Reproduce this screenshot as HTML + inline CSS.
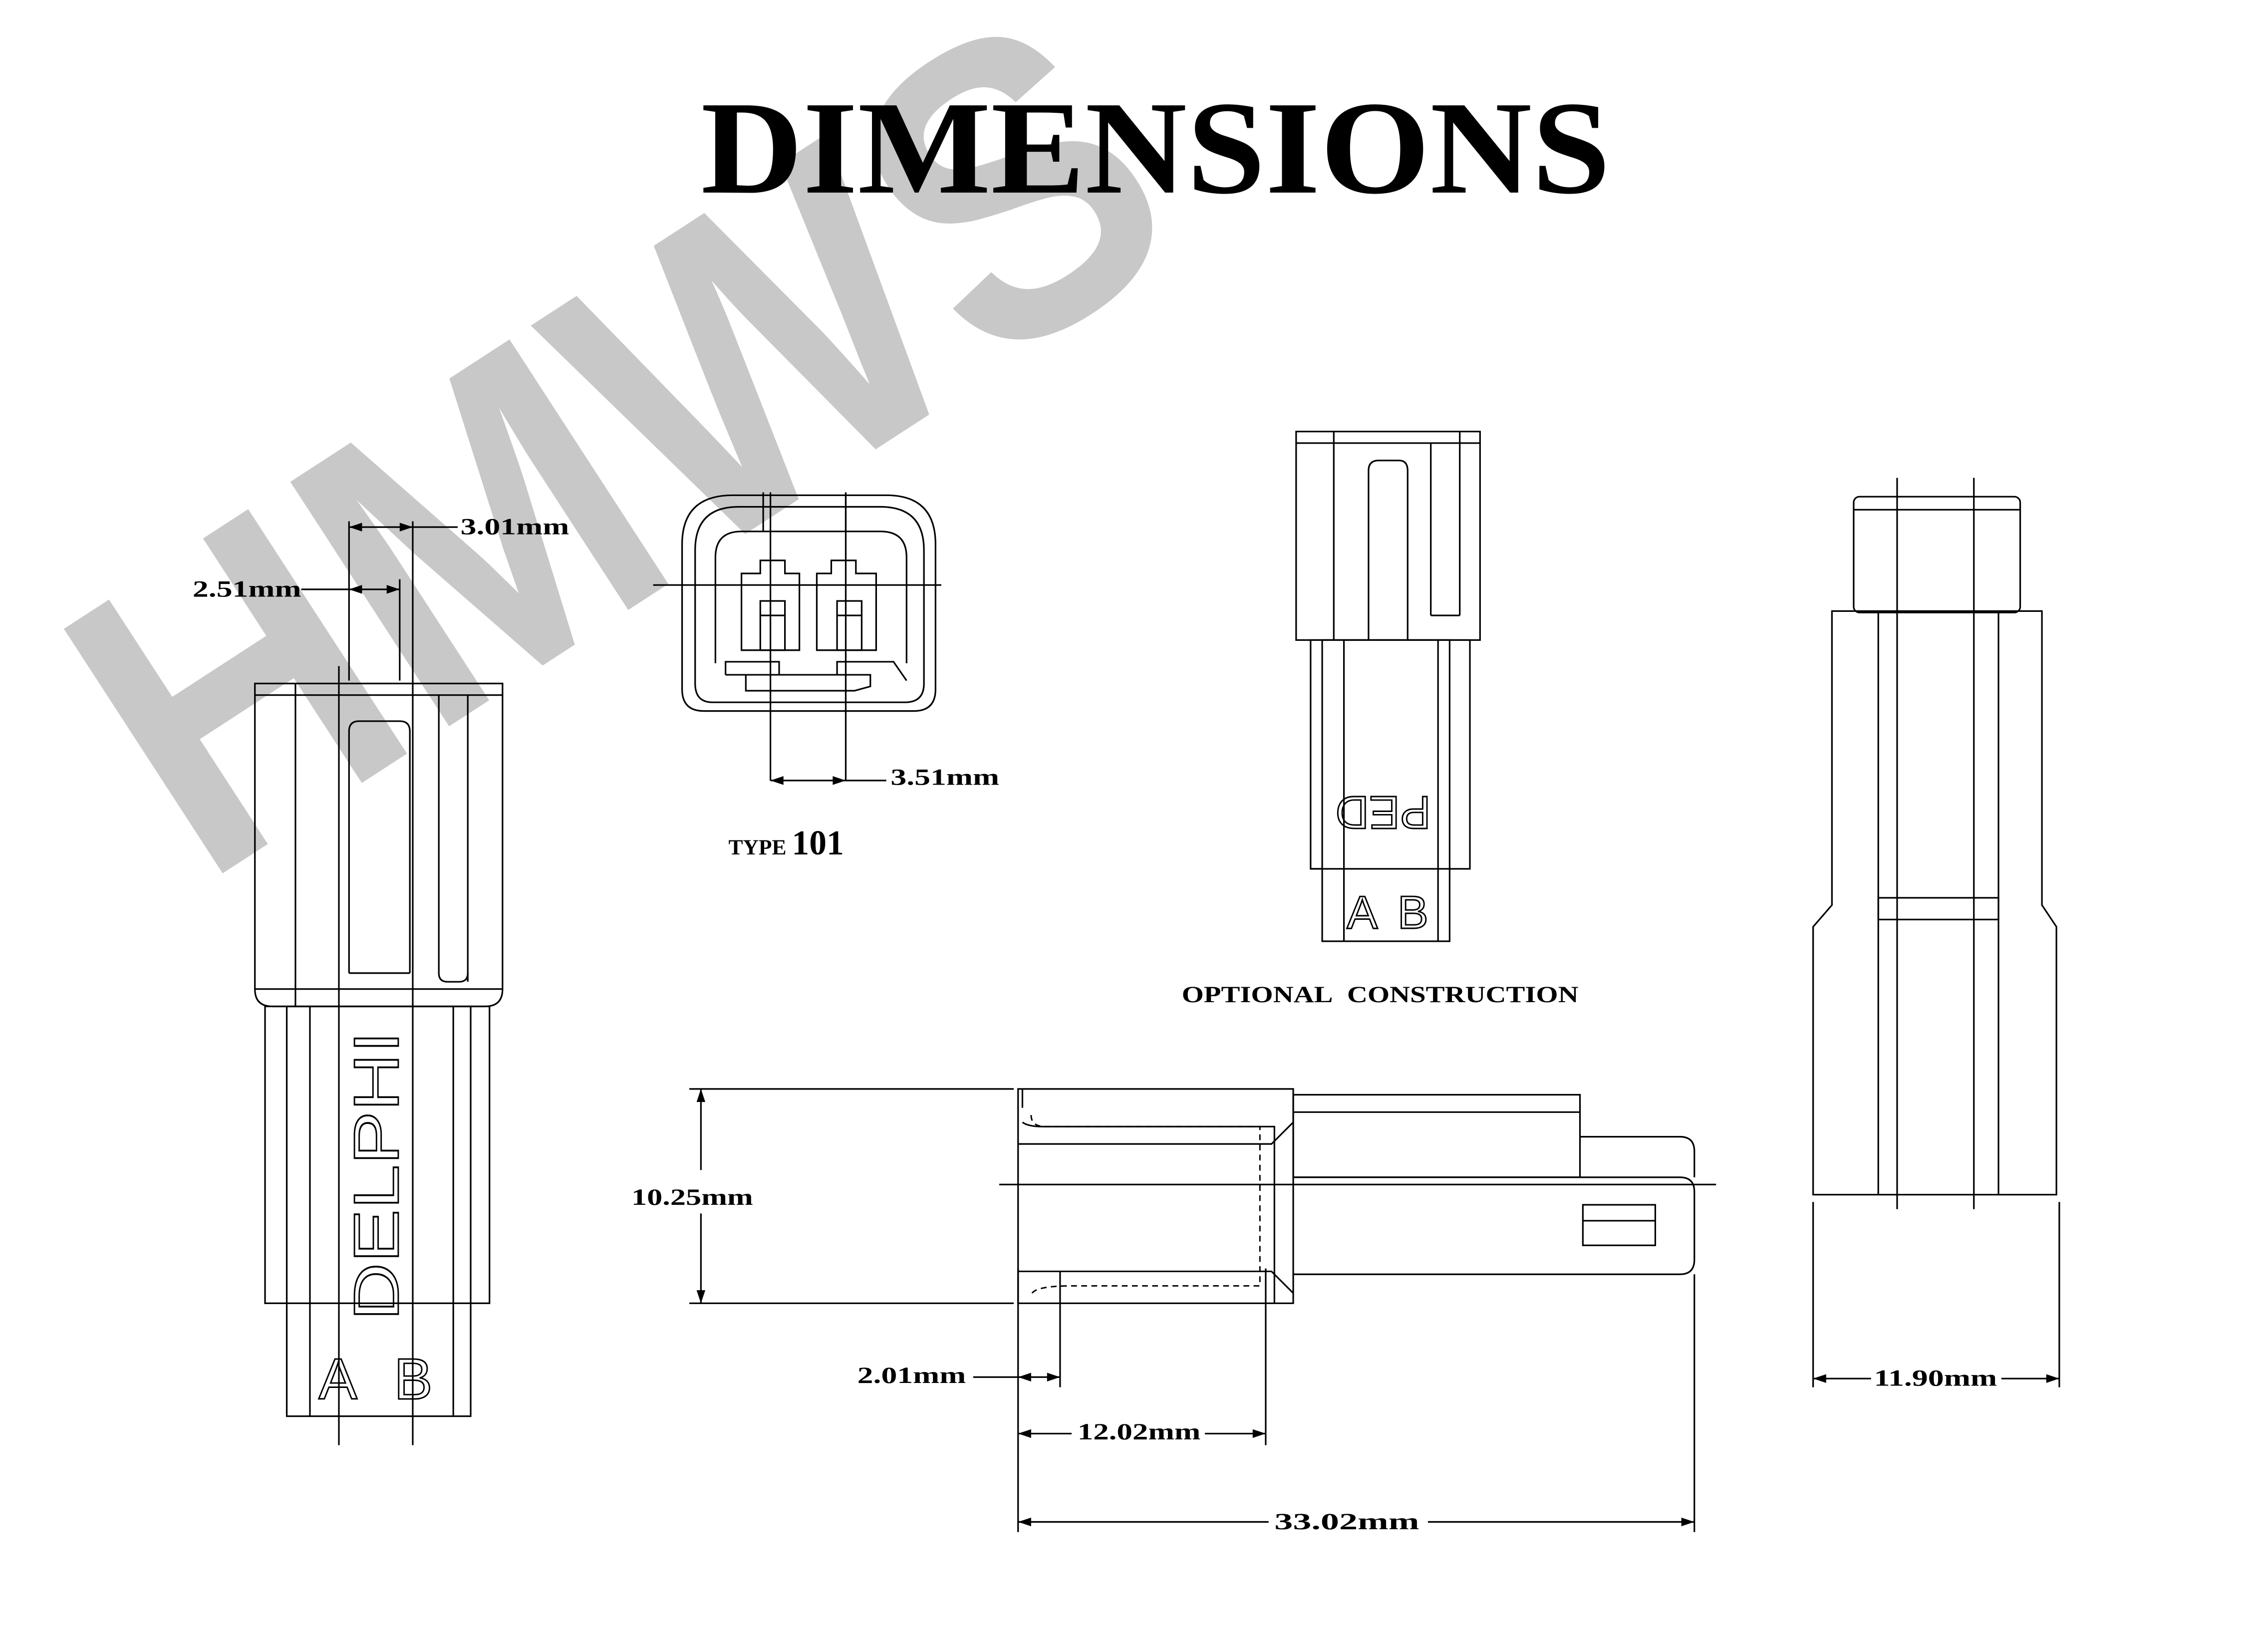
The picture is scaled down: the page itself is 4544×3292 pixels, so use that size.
<!DOCTYPE html>
<html><head><meta charset="utf-8"><style>
html,body{margin:0;padding:0;background:#fff;}
svg{display:block;}
text{font-family:"Liberation Serif",serif;font-weight:bold;fill:#000;}
text.sl{font-family:"Liberation Sans",sans-serif;font-weight:normal;fill:none;stroke:#000;stroke-width:1;}
</style></head><body>
<svg width="4544" height="3292" viewBox="0 0 1552 1124.4" xmlns="http://www.w3.org/2000/svg">
<rect width="1552" height="1125" fill="#fff"/>
<!-- watermark -->
<text x="0" y="0" transform="translate(138,607) rotate(-33)" style="font-family:'Liberation Sans',sans-serif;font-weight:bold;fill:#c8c8c8" font-size="290" textLength="810" lengthAdjust="spacingAndGlyphs">HMWS</text>
<g transform="scale(0.991)">
<text x="798" y="133" text-anchor="middle" font-size="92" textLength="628" lengthAdjust="spacingAndGlyphs">DIMENSIONS</text>

<g fill="none" stroke="#000" stroke-width="1.1">
<!-- LEFT VIEW -->
<path d="M176 472 H347 V683 Q347 695 335 695 H188 Q176 695 176 683 Z"/>
<line x1="176" y1="480" x2="347" y2="480"/>
<line x1="204" y1="472" x2="204" y2="695"/>
<line x1="323" y1="480" x2="323" y2="678"/>
<path d="M303 480 V672 Q303 678 309 678 H317 Q323 678 323 672"/>
<path d="M241 672 V505 Q241 498 248 498 H276 Q283 498 283 505 V672"/>
<line x1="241" y1="672" x2="283" y2="672"/>
<line x1="176" y1="683" x2="347" y2="683"/>
<rect x="183" y="695" width="155" height="205"/>
<rect x="198" y="695" width="127" height="283"/>
<line x1="214" y1="695" x2="214" y2="978"/>
<line x1="313" y1="695" x2="313" y2="978"/>
<line x1="234" y1="460" x2="234" y2="998"/>
<line x1="285" y1="360" x2="285" y2="998"/>
<line x1="241" y1="360" x2="241" y2="470"/>
<line x1="276" y1="400" x2="276" y2="470"/>
<line x1="241" y1="364" x2="316" y2="364"/>
<line x1="208" y1="407" x2="276" y2="407"/>

<!-- FRONT VIEW -->
<path d="M506 342 H612 Q646 342 646 376 V476 Q646 491 631 491 H486 Q471 491 471 476 V376 Q471 342 506 342 Z"/>
<path d="M510 350 H608 Q638 350 638 380 V472 Q638 485 625 485 H492 Q480 485 480 472 V380 Q480 350 510 350 Z"/>
<path d="M494 458 V385 Q494 367 512 367 H608 Q626 367 626 385 V458"/>
<path d="M512 449 V396 H525 V387 H542 V396 H552 V449 Z"/>
<path d="M564 449 V396 H574 V387 H591 V396 H605 V449 Z"/>
<rect x="525" y="415" width="17" height="34"/>
<rect x="578" y="415" width="17" height="34"/>
<line x1="525" y1="425" x2="542" y2="425"/>
<line x1="578" y1="425" x2="595" y2="425"/>
<line x1="451" y1="404" x2="650" y2="404"/>
<line x1="532" y1="340" x2="532" y2="539"/>
<line x1="584" y1="340" x2="584" y2="539"/>
<line x1="527" y1="340" x2="527" y2="367"/>
<line x1="584" y1="340" x2="584" y2="367"/>
<path d="M501 466 V457 H538 V466"/>
<path d="M578 466 V457 H617 L626 470"/>
<path d="M501 466 H601 L601 474 L590 477 H515 V466"/>
<line x1="532" y1="539" x2="612" y2="539"/>

<!-- OPTIONAL CONSTRUCTION -->
<rect x="895" y="298" width="127" height="144"/>
<line x1="921" y1="298" x2="921" y2="442"/>
<line x1="988" y1="306" x2="988" y2="425"/>
<line x1="1008" y1="298" x2="1008" y2="425"/>
<line x1="988" y1="425" x2="1008" y2="425"/>
<line x1="895" y1="306" x2="1022" y2="306"/>
<path d="M945 442 V325 Q945 318 952 318 H966 Q972 318 972 325 V442"/>
<rect x="905" y="442" width="110" height="158"/>
<rect x="913" y="442" width="88" height="208"/>
<line x1="928" y1="442" x2="928" y2="650"/>
<line x1="993" y1="442" x2="993" y2="650"/>
<line x1="905" y1="600" x2="913" y2="600"/>

<!-- RIGHT VIEW -->
<rect x="1280" y="343" width="115" height="80" rx="4"/>
<line x1="1280" y1="352" x2="1395" y2="352"/>
<path d="M1265 422 H1410 V625 L1420 640 V825 H1252 V640 L1265 625 Z"/>
<line x1="1297" y1="422" x2="1297" y2="825"/>
<line x1="1380" y1="422" x2="1380" y2="825"/>
<line x1="1310" y1="330" x2="1310" y2="835"/>
<line x1="1363" y1="330" x2="1363" y2="835"/>
<rect x="1297" y="620" width="83" height="15"/>
<line x1="1252" y1="830" x2="1252" y2="958"/>
<line x1="1422" y1="830" x2="1422" y2="958"/>
<line x1="1252" y1="952" x2="1292" y2="952"/>
<line x1="1382" y1="952" x2="1422" y2="952"/>

<!-- SIDE VIEW -->
<path d="M703 752 H893 V900 H703 Z"/>
<path d="M706 765 V752 M706 775 Q710 778 720 778 H880 V900"/>
<path d="M703 790 H878 L893 775"/>
<path d="M703 878 H878 L893 893"/>
<rect x="893" y="756" width="198" height="57"/>
<line x1="893" y1="768" x2="1091" y2="768"/>
<path d="M893 813 H1160 Q1170 813 1170 823 V870 Q1170 880 1160 880 H893"/>
<path d="M1091 785 H1160 Q1170 785 1170 795 V813"/>
<rect x="1093" y="832" width="50" height="28"/>
<line x1="1093" y1="843" x2="1143" y2="843"/>
<line x1="690" y1="818" x2="1185" y2="818"/>
<line x1="703" y1="876" x2="703" y2="1058"/>
<line x1="732" y1="878" x2="732" y2="958"/>
<line x1="874" y1="876" x2="874" y2="998"/>
<line x1="1170" y1="880" x2="1170" y2="1058"/>
<line x1="476" y1="752" x2="700" y2="752"/>
<line x1="476" y1="900" x2="700" y2="900"/>
<line x1="484" y1="752" x2="484" y2="808"/>
<line x1="484" y1="838" x2="484" y2="900"/>
<line x1="672" y1="951" x2="732" y2="951"/>
<line x1="703" y1="990" x2="740" y2="990"/>
<line x1="832" y1="990" x2="874" y2="990"/>
<line x1="703" y1="1051" x2="876" y2="1051"/>
<line x1="986" y1="1051" x2="1170" y2="1051"/>
</g>
<g stroke="#000" stroke-width="1" stroke-dasharray="4 3" fill="none">
<path d="M712 770 Q712 778 722 778 H870 V888 H740 Q712 888 712 895"/>
</g>
<g fill="#000">
<path d="M241 364 l9 -3 v6 z M285 364 l-9 -3 v6 z M241 407 l9 -3 v6 z M276 407 l-9 -3 v6 z"/>
<path d="M532 539 l9 -3 v6 z M584 539 l-9 -3 v6 z"/>
<path d="M1252 952 l9 -3 v6 z M1422 952 l-9 -3 v6 z"/>
<path d="M484 752 l-3 9 h6 z M484 900 l-3 -9 h6 z"/>
<path d="M703 951 l9 -3 v6 z M732 951 l-9 -3 v6 z M703 990 l9 -3 v6 z M874 990 l-9 -3 v6 z M703 1051 l9 -3 v6 z M1170 1051 l-9 -3 v6 z"/>
</g>
<g font-size="16">
<text x="318" y="369" textLength="75" lengthAdjust="spacingAndGlyphs">3.01mm</text>
<text x="133" y="412" textLength="75" lengthAdjust="spacingAndGlyphs">2.51mm</text>
<text x="615" y="542" textLength="75" lengthAdjust="spacingAndGlyphs">3.51mm</text>
<text x="503" y="590" font-size="15">TYPE <tspan font-size="24">101</tspan></text>
<text x="816" y="692" textLength="274" lengthAdjust="spacingAndGlyphs">OPTIONAL&#160;&#160;CONSTRUCTION</text>
<text x="436" y="832" textLength="84" lengthAdjust="spacingAndGlyphs">10.25mm</text>
<text x="592" y="955" textLength="75" lengthAdjust="spacingAndGlyphs">2.01mm</text>
<text x="744" y="994" textLength="85" lengthAdjust="spacingAndGlyphs">12.02mm</text>
<text x="880" y="1056" textLength="100" lengthAdjust="spacingAndGlyphs">33.02mm</text>
<text x="1294" y="957" textLength="85" lengthAdjust="spacingAndGlyphs">11.90mm</text>
</g>
<text class="sl" x="0" y="0" transform="translate(275,912) rotate(-90)" font-size="44" textLength="200" lengthAdjust="spacingAndGlyphs">DELPHI</text>
<text class="sl" x="220" y="966" font-size="40">A</text>
<text class="sl" x="272" y="966" font-size="40">B</text>
<text class="sl" x="930" y="641" font-size="32">A</text>
<text class="sl" x="965" y="641" font-size="32">B</text>
<text class="sl" x="0" y="0" transform="translate(988,550) rotate(180)" font-size="32">PED</text>
</g>
</svg>
</body></html>
